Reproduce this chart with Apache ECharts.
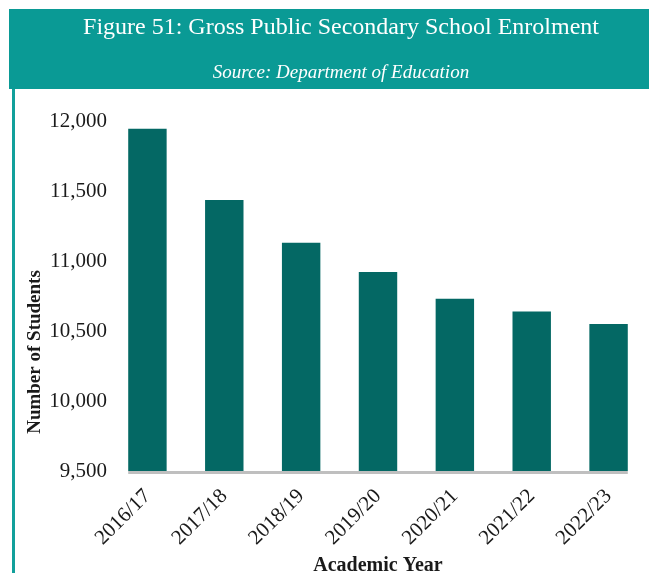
<!DOCTYPE html>
<html>
<head>
<meta charset="utf-8">
<script src="https://cdn.jsdelivr.net/npm/echarts@6/dist/echarts.min.js"></script>
<style>
  html, body { margin: 0; padding: 0; background: #fff; }
  #chartBox { width: 649px; height: 573px; }
</style>
</head>
<body>
<div id="chartBox"></div>
<script>
// data
var years = ['2016/17', '2017/18', '2018/19', '2019/20', '2020/21', '2021/22', '2022/23'];
var students = [11945, 11435, 11130, 10922, 10730, 10640, 10550];
var yTicks = { min: 9500, max: 12000, step: 500 };

var teal = '#0a9a95';
var barColor = '#046864';
var serif = '"Liberation Serif", "DejaVu Serif", serif';

var chartDom = document.getElementById('chartBox');
var myChart = echarts.init(chartDom);

var option = {
    animation: false,
    backgroundColor: '#fff',
    title: [
        {
            text: 'Figure 51: Gross Public Secondary School Enrolment',
            left: 336,
            top: 11,
            textAlign: 'center',
            textStyle: { color: '#fff', fontFamily: serif, fontSize: 24, fontWeight: 'normal' }
        },
        {
            text: 'Source: Department of Education',
            left: 336,
            top: 58,
            textAlign: 'center',
            textStyle: { color: '#fff', fontFamily: serif, fontSize: 19, fontStyle: 'italic', fontWeight: 'normal' }
        }
    ],
    grid: {
        left: 109,
        right: 2,
        top: 121,
        bottom: 102,
        outerBoundsMode: 'none'
    },
    xAxis: {
        type: 'category',
        data: years,
        name: 'Academic Year',
        nameLocation: 'middle',
        nameGap: 79,
        nameTextStyle: { color: '#1a1a1a', fontFamily: serif, fontSize: 20, fontWeight: 'bold' },
        axisLine: { show: false },
        axisTick: { show: false },
        axisLabel: {
            rotate: 45,
            margin: 22,
            interval: 0,
            color: '#1a1a1a',
            fontFamily: serif,
            fontSize: 21
        }
    },
    yAxis: {
        type: 'value',
        min: yTicks.min,
        max: yTicks.max,
        interval: yTicks.step,
        axisLine: { show: false },
        axisTick: { show: false },
        splitLine: { show: false },
        axisLabel: {
            margin: 2,
            color: '#1a1a1a',
            fontFamily: serif,
            fontSize: 21,
            formatter: function (v) { return v.toLocaleString('en-US'); }
        }
    },
    series: [
        {
            type: 'bar',
            data: students,
            barWidth: '50%',
            itemStyle: { color: barColor }
        }
    ],
    graphic: [
        // header band
        { type: 'rect', left: 9, top: 9, shape: { width: 640, height: 80 }, style: { fill: teal }, z: -1 },
        // left border of the chart box
        { type: 'rect', left: 12, top: 89, shape: { width: 3, height: 484 }, style: { fill: '#12a09b' }, z: -1 },
        {
            type: 'text',
            id: 'yname',
            x: 35,
            y: 352,
            rotation: Math.PI / 2,
            style: {
                text: 'Number of Students',
                fill: '#1a1a1a',
                font: 'bold 19px ' + serif,
                textAlign: 'center',
                textVerticalAlign: 'middle'
            }
        }
    ]
};
myChart.setOption(option);

// gray base line that runs only under the bars, placed from the axis scale
var c0 = myChart.convertToPixel({ xAxisIndex: 0 }, years[0]);
var c1 = myChart.convertToPixel({ xAxisIndex: 0 }, years[1]);
var cN = myChart.convertToPixel({ xAxisIndex: 0 }, years[years.length - 1]);
var half = (c1 - c0) * 0.25;
var yBase = myChart.convertToPixel({ yAxisIndex: 0 }, yTicks.min);
myChart.setOption({
    graphic: [
        {
            type: 'rect',
            id: 'baseline',
            shape: { x: c0 - half, y: yBase, width: (cN + half) - (c0 - half), height: 3 },
            style: { fill: '#bfbfbf' },
            z: 10
        }
    ]
});
</script>
</body>
</html>
